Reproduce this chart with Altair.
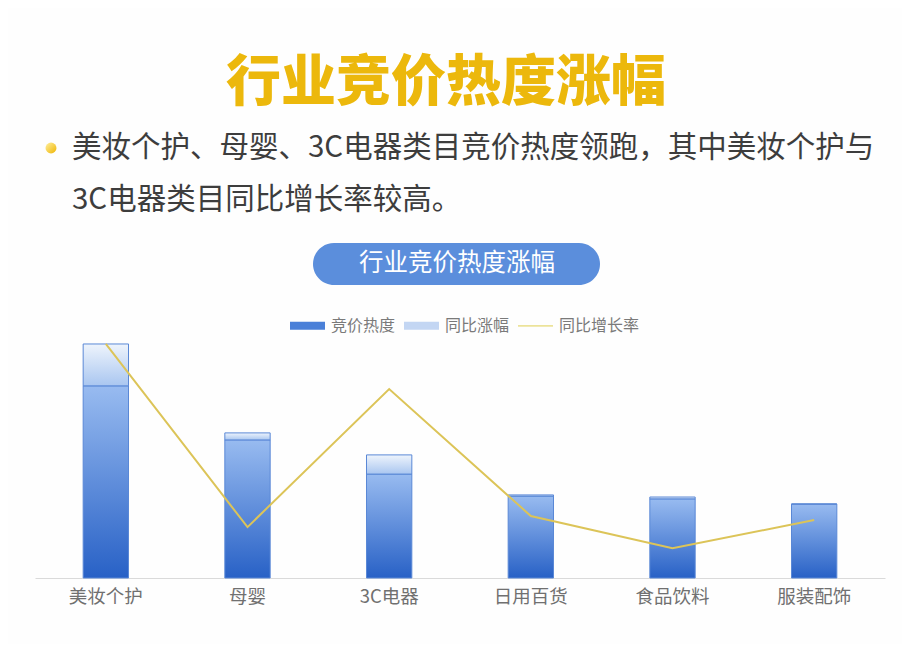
import altair as alt
import pandas as pd

# ---- data (arbitrary but proportional units) ----
categories = ["美妆个护", "母婴", "3C电器", "日用百货", "食品饮料", "服装配饰"]
heat = [82.1, 59.0, 44.4, 35.0, 33.8, 31.6]      # 竞价热度
rise = [17.9, 3.0, 8.2, 0.5, 0.8, 0.0]           # 同比涨幅
growth = [40.0, 8.7, 32.3, 10.6, 5.1, 9.9]       # 同比增长率
legend_items = ["竞价热度", "同比涨幅", "同比增长率"]
legend_colors = ["#4a80d8", "#c3d6f3", "#ece39a"]

main_title = "行业竞价热度涨幅"
sub_line1 = "美妆个护、母婴、3C电器类目竞价热度领跑，其中美妆个护与"
sub_line2 = "3C电器类目同比增长率较高。"
pill_title = "行业竞价热度涨幅"

df = pd.DataFrame({
    "category": categories,
    "heat": heat,
    "rise": rise,
    "total": [h + r for h, r in zip(heat, rise)],
    "growth": growth,
})

FONT = "Noto Sans CJK SC"
W, H = 850, 260
bar_scale = alt.Scale(domain=[0, 111.1], nice=False, zero=True)
line_scale = alt.Scale(domain=[0, 44.44], nice=False, zero=True)

X = alt.X("category:N", sort=categories, title=None,
          scale=alt.Scale(paddingInner=0.68, paddingOuter=0.34),
          axis=alt.Axis(labelAngle=0, ticks=False, domainColor="#dadada",
                        labelFont=FONT, labelFontSize=18.5, labelColor="#707070",
                        labelPadding=9, grid=False))

grad_heat = alt.Gradient(gradient="linear", x1=0, x2=0, y1=0, y2=1,
                         stops=[alt.GradientStop(offset=0, color="#98bbf0"),
                                alt.GradientStop(offset=1, color="#2861c6")])
grad_rise = alt.Gradient(gradient="linear", x1=0, x2=0, y1=0, y2=1,
                         stops=[alt.GradientStop(offset=0, color="#eef4fc"),
                                alt.GradientStop(offset=1, color="#a9c6f0")])
grad_dot = alt.Gradient(gradient="linear", x1=0, x2=1, y1=0, y2=1,
                        stops=[alt.GradientStop(offset=0, color="#fff0a0"),
                               alt.GradientStop(offset=1, color="#efb400")])

base = alt.Chart(df)

heat_bars = base.mark_bar(fill=grad_heat, stroke="#5a88d6", strokeWidth=1).encode(
    x=X, y=alt.Y("heat:Q", scale=bar_scale, axis=None))

rise_bars = base.mark_bar(fill=grad_rise, stroke="#5a88d6", strokeWidth=1).encode(
    x=X, y=alt.Y("heat:Q", scale=bar_scale, axis=None), y2="total:Q")

growth_line = base.mark_line(color="#dcc458", strokeWidth=2).encode(
    x=X, y=alt.Y("growth:Q", scale=line_scale, axis=None))

leg_common = dict(title=None, orient="none", legendX=255, legendY=-10,
                  direction="horizontal", symbolSize=1225, symbolStrokeWidth=0,
                  symbolOpacity=1, labelFont=FONT, labelFontSize=16,
                  labelColor="#7a7a7a", labelOffset=6, columnPadding=8)

legend_layer = alt.Chart(pd.DataFrame({"series": legend_items})).mark_point(
    filled=True).encode(
    x=alt.value(-300), y=alt.value(-900),
    color=alt.Color("series:N", sort=legend_items,
                    scale=alt.Scale(domain=legend_items, range=legend_colors),
                    legend=alt.Legend(**leg_common)),
    shape=alt.Shape("series:N", sort=legend_items,
                    scale=alt.Scale(domain=legend_items,
                                    range=["M-1,-0.23H1V0.23H-1Z",
                                           "M-1,-0.23H1V0.23H-1Z",
                                           "M-1,-0.05H1V0.05H-1Z"]),
                    legend=alt.Legend(**leg_common)),
)

one = alt.Data(values=[{"k": 1}])

title_mark = alt.Chart(one).mark_text(
    font=FONT, fontSize=55, fontWeight=900, color="#ecb80c",
    align="center", baseline="middle").encode(
    x=alt.value(411), y=alt.value(-235), text=alt.value(main_title))

bullet = alt.Chart(one).mark_point(filled=True, shape="circle", size=120,
                                   fill=grad_dot, opacity=1).encode(
    x=alt.value(16), y=alt.value(-170))

line1 = alt.Chart(one).mark_text(
    font=FONT, fontSize=29.5, color="#3d3d3d", align="left", baseline="middle").encode(
    x=alt.value(37), y=alt.value(-170), text=alt.value(sub_line1))

line2 = alt.Chart(one).mark_text(
    font=FONT, fontSize=29.5, color="#3d3d3d", align="left", baseline="middle").encode(
    x=alt.value(37), y=alt.value(-118), text=alt.value(sub_line2))

pill = alt.Chart(one).mark_rect(cornerRadius=21, color="#5b8edc").encode(
    x=alt.value(278), x2=alt.value(565), y=alt.value(-75), y2=alt.value(-33))

pill_text = alt.Chart(one).mark_text(
    font=FONT, fontSize=24.5, color="#ffffff", align="center", baseline="middle").encode(
    x=alt.value(422), y=alt.value(-54), text=alt.value(pill_title))

chart = alt.layer(
    heat_bars, rise_bars, growth_line, legend_layer,
    title_mark, bullet, line1, line2, pill, pill_text,
).resolve_scale(y="independent").properties(
    width=W, height=H,
    autosize=alt.AutoSizeParams(type="none"),
    padding={"left": 27, "top": 310, "right": 17, "bottom": 66},
    background="#fefefe",
).configure_view(stroke=None)

chart.save("out.html", embed_options={"renderer": "svg", "actions": False})
